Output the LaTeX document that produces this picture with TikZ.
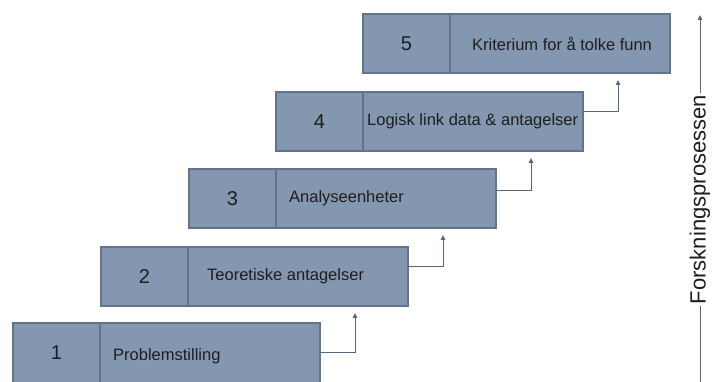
\documentclass[tikz,border=0pt]{standalone}
\usepackage{fontspec}
\setmainfont{Liberation Sans}
\usetikzlibrary{arrows.meta}
\definecolor{stepfill}{HTML}{8497B0}
\definecolor{stepline}{HTML}{62738C}
\definecolor{linkline}{HTML}{56667E}
\definecolor{inktext}{HTML}{1E1E1E}
\begin{document}
\begin{tikzpicture}[x=1pt,y=-1pt,
  cell/.style={rectangle,draw=stepline,fill=stepfill,line width=1.1pt,
    inner sep=0pt,outer sep=0pt,minimum height=59pt,anchor=north west},
  numcell/.style={cell,minimum width=87pt,text=inktext,
    font=\fontsize{20}{22}\selectfont},
  labcell/.style={cell,minimum width=220pt},
  labtext/.style={anchor=west,inner sep=0pt,text=inktext,
    font=\fontsize{16.5}{18}\selectfont},
  link/.style={draw=linkline,line width=1pt,
    -{Triangle[width=4.5pt,length=5pt]}},
  axislabel/.style={fill=white,rotate=90,inner xsep=2pt,inner ysep=1pt,
    text=inktext,font=\fontsize{22}{24}\selectfont}]
\useasboundingbox (0,0) rectangle (724,382);
\clip (0,0) rectangle (724,382);

% bottom step, cut by the page edge
\node[numcell,minimum height=66pt] (num1) at (13,323) {};
\node[labcell,minimum height=66pt] (lab1) at (num1.north east) {};
\node[numcell,draw=none,fill=none] (n1) at (13,323) {1};
\node[labtext] (txt1) at (113,356) {Problemstilling};

% the upper steps: number cell and text cell side by side
\foreach \i/\lx/\ty/\tx/\txt in {
    2/101/247/207/Teoretiske antagelser,
    3/189/169/289/Analyseenheter,
    4/276/92/367/Logisk link data \& antagelser,
    5/363/14/472/Kriterium for å tolke funn}{
  \node[numcell] (num\i) at (\lx,\ty) {\i};
  \node[labcell] (lab\i) at (num\i.north east) {};
  \path (lab\i.west) -- ++(\tx-\lx-87,0) coordinate (tx\i);
  \node[labtext] (txt\i) at (tx\i) {\txt};
}

% connectors from each step up to the next one
\foreach \i/\off in {1/30,2/20,3/22,4/20}{
  \pgfmathtruncatemacro{\nx}{\i+1}
  \path (lab\i.north east) ++(0,\off) coordinate (o\i);
  \path (o\i) ++(35,0) coordinate (t\i);
  \path (lab\nx.south) ++(0,7) coordinate (e\i);
  \draw[link] (o\i) -- (t\i) -- (t\i |- e\i);
}

% process axis on the right
\coordinate (axisbot) at (700,384);
\coordinate (axistop) at (700,15);
\draw[link] (axisbot) -- (axistop)
  node[axislabel,pos=0.5] (axistext) {Forskningsprosessen};
\end{tikzpicture}
\end{document}
